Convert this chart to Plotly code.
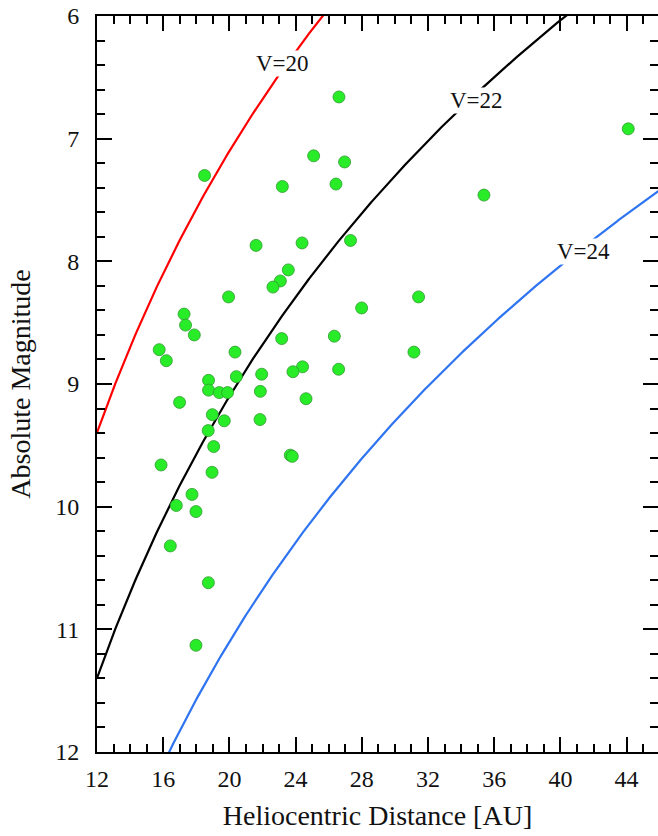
import numpy as np
import plotly.graph_objects as go

# Observed objects: heliocentric distance [AU] and absolute magnitude
distance = [26.62, 18.50, 25.09, 26.96, 23.20, 26.44, 21.61, 24.39, 27.32,
            23.56, 23.08, 22.63, 19.95, 27.99, 17.26, 17.35, 17.88, 23.16,
            26.34, 15.76, 16.19, 20.34, 26.60, 24.42, 23.84, 20.42, 21.95,
            18.74, 18.74, 19.39, 19.89, 21.87, 16.99, 24.63, 18.97, 19.69,
            21.85, 18.72, 19.05, 23.68, 23.80, 15.87, 18.95, 17.74, 16.79,
            17.98, 16.43, 18.73, 17.98, 44.10, 35.38, 31.43, 31.15]
abs_mag = [6.66, 7.30, 7.14, 7.19, 7.39, 7.37, 7.87, 7.85, 7.83,
           8.07, 8.16, 8.21, 8.29, 8.38, 8.43, 8.52, 8.60, 8.63,
           8.61, 8.72, 8.81, 8.74, 8.88, 8.86, 8.90, 8.94, 8.92,
           8.97, 9.05, 9.07, 9.07, 9.06, 9.15, 9.12, 9.25, 9.30,
           9.29, 9.38, 9.51, 9.58, 9.59, 9.66, 9.72, 9.90, 9.99,
           10.04, 10.32, 10.62, 11.13, 6.92, 7.46, 8.29, 8.74]

# Limiting apparent magnitude curves
curve_V = [20, 22, 24]
curve_labels = ["V=20", "V=22", "V=24"]
curve_colors = ["#ff0000", "#000000", "#2f74f0"]
curve_r = np.linspace(12, 46, 400)

label_x = [23.18, 34.91, 41.40]
label_y = [6.39, 6.69, 7.92]

x_ticks = [12, 16, 20, 24, 28, 32, 36, 40, 44]
y_ticks = [6, 7, 8, 9, 10, 11, 12]

FONT = "Liberation Serif"

fig = go.Figure()
for V, col in zip(curve_V, curve_colors):
    H = V - 5 * np.log10(curve_r * (curve_r - 1))
    fig.add_trace(go.Scatter(x=curve_r, y=H, mode="lines",
                             line=dict(color=col, width=2.2),
                             hoverinfo="skip", showlegend=False))

fig.add_trace(go.Scatter(x=distance, y=abs_mag, mode="markers",
                         marker=dict(size=12, color="#28ec28",
                                     line=dict(color="#2f9a2f", width=0.8)),
                         showlegend=False))

# invisible trace for right-side tick axis
fig.add_trace(go.Scatter(x=[12], y=[6], yaxis="y2", mode="markers",
                         marker=dict(opacity=0), hoverinfo="skip", showlegend=False))

for txt, lx, ly in zip(curve_labels, label_x, label_y):
    fig.add_annotation(x=lx, y=ly, text=txt, showarrow=False,
                       font=dict(family=FONT, size=23, color="#111"),
                       bgcolor="white", borderpad=0)

x_range = [12, 12 + (658 - 97) / 16.55]

fig.update_layout(
    width=658, height=836,
    margin=dict(l=97, r=0, t=16, b=84, autoexpand=False),
    plot_bgcolor="white", paper_bgcolor="white",
    font=dict(family=FONT, size=24, color="#111"),
    xaxis=dict(range=x_range, tickvals=x_ticks, ticks="inside", ticklen=15,
               tickwidth=2, tickcolor="black", showline=True, linewidth=2,
               linecolor="black", mirror="ticks", showgrid=False, zeroline=False,
               automargin=False, ticklabelstandoff=4,
               minor=dict(dtick=1, ticks="inside", ticklen=8, tickwidth=2,
                          tickcolor="black", showgrid=False),
               tickfont=dict(family=FONT, size=24, color="#111"),
               title=dict(text="Heliocentric Distance [AU]",
                          font=dict(family=FONT, size=28, color="#111"),
                          standoff=15)),
    yaxis=dict(range=[12, 6], tickvals=y_ticks, ticks="inside", ticklen=15,
               tickwidth=2, tickcolor="black", showline=True, linewidth=2,
               linecolor="black", showgrid=False, zeroline=False,
               automargin=False,
               minor=dict(dtick=0.2, tick0=6, ticks="inside", ticklen=8, tickwidth=2,
                          tickcolor="black", showgrid=False),
               tickfont=dict(family=FONT, size=24, color="#111"),
               ticklabelstandoff=11,
               title=dict(text="Absolute Magnitude",
                          font=dict(family=FONT, size=28, color="#111"),
                          standoff=16)),
    yaxis2=dict(range=[12, 6], overlaying="y", side="right", anchor="x",
                tickvals=y_ticks, ticks="inside", ticklen=15, tickwidth=2,
                tickcolor="black", showline=False, showgrid=False, zeroline=False,
                showticklabels=False, automargin=False,
                minor=dict(dtick=0.2, tick0=6, ticks="inside", ticklen=8, tickwidth=2,
                           tickcolor="black", showgrid=False)),
)

fig.write_html("out.html", config={"displayModeBar": False},
               post_script="document.body.style.margin='0';document.body.style.overflow='hidden';")
